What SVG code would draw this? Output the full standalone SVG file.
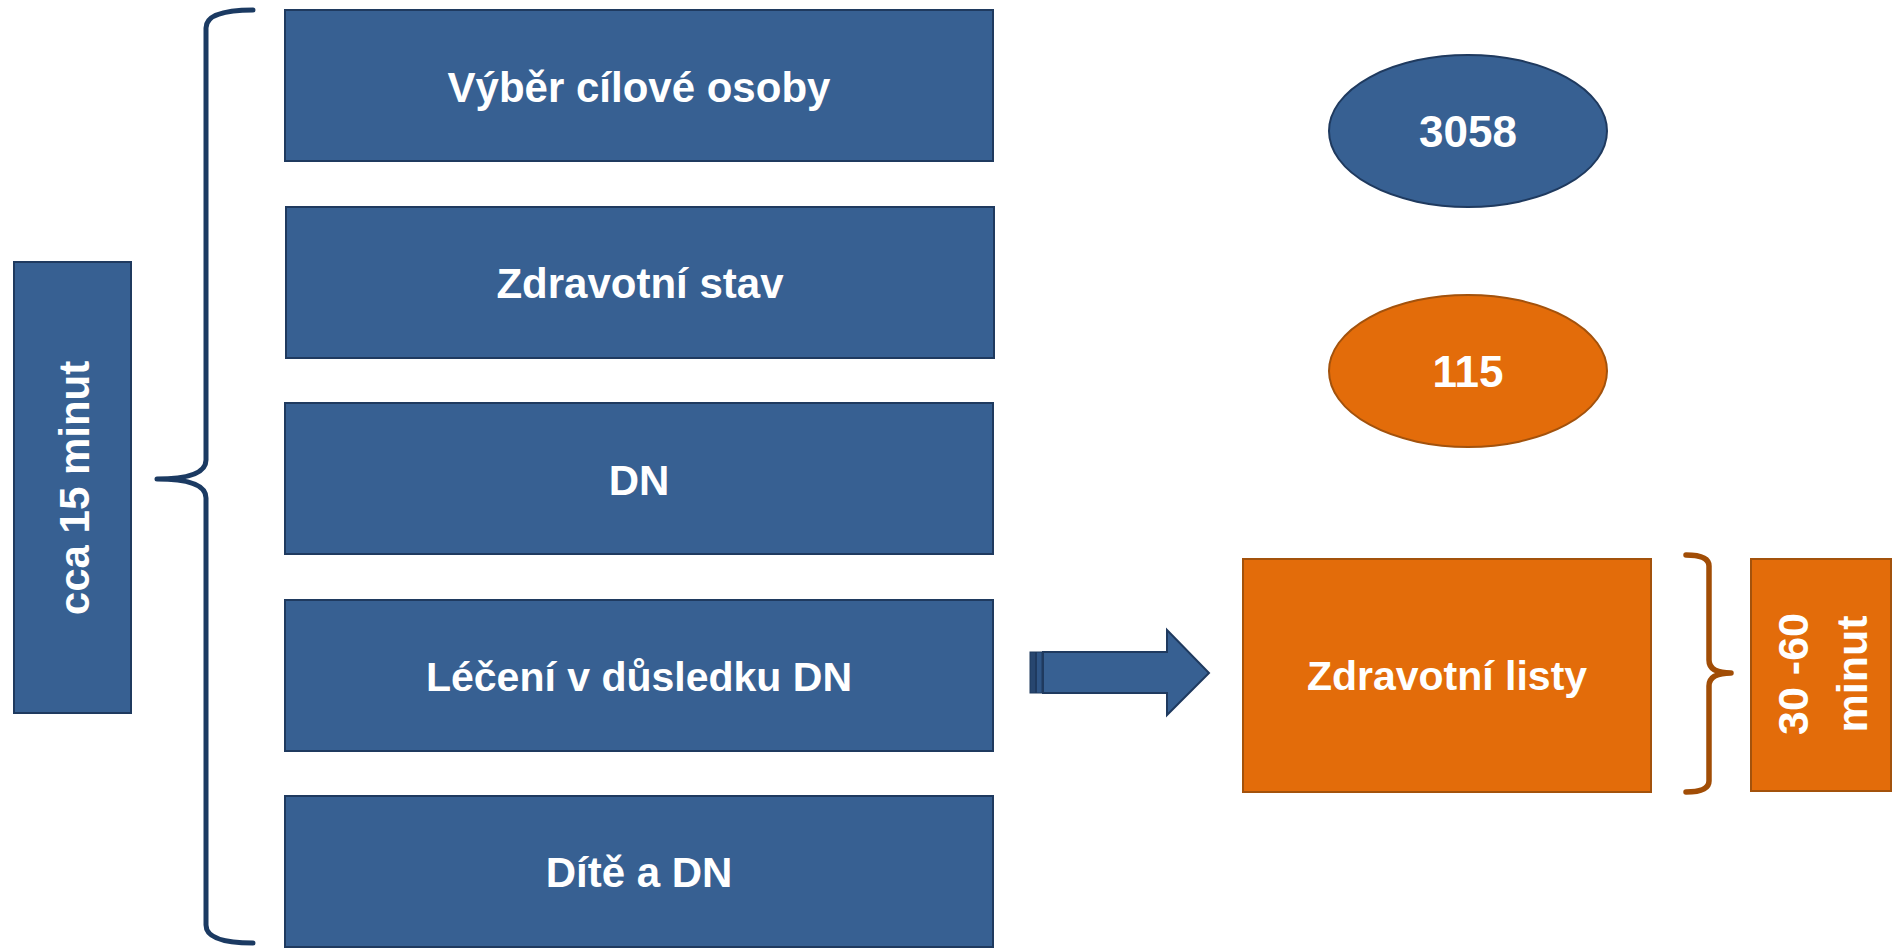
<svg xmlns="http://www.w3.org/2000/svg" width="1894" height="948" viewBox="0 0 1894 948">
<style>
.bbox{fill:#376092;stroke:#1f3a5f;stroke-width:2}
.obox{fill:#e36c0a;stroke:#a3520c;stroke-width:2}
.t{font-family:"Liberation Sans",Arial,sans-serif;font-weight:bold;fill:#ffffff;text-anchor:middle}
.brB{fill:none;stroke:#1b3a62;stroke-width:5;stroke-linecap:round;stroke-linejoin:round}
.brO{fill:none;stroke:#a14d06;stroke-width:5.5;stroke-linecap:round;stroke-linejoin:round}
</style>
<rect width="1894" height="948" fill="#ffffff"/>
<g id="time-left">
<rect class="bbox" x="14" y="262" width="117" height="451"/>
<text class="t" font-size="42" transform="translate(89,488) rotate(-90)" x="0" y="0">cca 15 minut</text>
</g>
<g id="node-vyber">
<rect class="bbox" x="285" y="10" width="708" height="151"/>
<text class="t" font-size="42" x="639" y="102">Výběr cílové osoby</text>
</g>
<g id="node-zdravotni-stav">
<rect class="bbox" x="286" y="207" width="708" height="151"/>
<text class="t" font-size="42" x="640" y="298">Zdravotní stav</text>
</g>
<g id="node-dn">
<rect class="bbox" x="285" y="403" width="708" height="151"/>
<text class="t" font-size="42" x="639" y="495">DN</text>
</g>
<g id="node-leceni">
<rect class="bbox" x="285" y="600" width="708" height="151"/>
<text class="t" font-size="41" x="639" y="691">Léčení v důsledku DN</text>
</g>
<g id="node-dite">
<rect class="bbox" x="285" y="796" width="708" height="151"/>
<text class="t" font-size="42" x="639" y="887">Dítě a DN</text>
</g>
<g id="node-3058">
<ellipse cx="1468" cy="131" rx="139" ry="76" fill="#376092" stroke="#1f3a5f" stroke-width="2"/>
<text class="t" font-size="44" x="1468" y="147">3058</text>
</g>
<g id="node-115">
<ellipse cx="1468" cy="371" rx="139" ry="76" fill="#e36c0a" stroke="#a3520c" stroke-width="2"/>
<text class="t" font-size="44" x="1468" y="387">115</text>
</g>
<g id="node-zdravotni-listy">
<rect class="obox" x="1243" y="559" width="408" height="233"/>
<text class="t" font-size="41" x="1447" y="690">Zdravotní listy</text>
</g>
<g id="time-right">
<rect class="obox" x="1751" y="559" width="140" height="232"/>
<text class="t" font-size="43" transform="translate(1808,674) rotate(-90)" x="0" y="0">30 -60</text>
<text class="t" font-size="43" transform="translate(1867,674) rotate(-90)" x="0" y="0">minut</text>
</g>
<g id="connectors">
<path class="brB" d="M253,10 Q206,10 206,28 L206,460 Q206,479 157,479 Q206,479 206,498 L206,925 Q206,943 253,943"/>
<path class="brO" d="M1686,555 Q1709,555 1709,566 L1709,660 Q1709,673 1731,673 Q1709,673 1709,686 L1709,781 Q1709,792 1686,792"/>
<rect x="1030" y="652" width="5.5" height="41" fill="#27466f" stroke="#1f3a5f" stroke-width="1"/>
<rect x="1036.5" y="652" width="5.5" height="41" fill="#2f5585" stroke="#1f3a5f" stroke-width="1"/>
<path d="M1043,652 L1167,652 L1167,630 L1209,673 L1167,715 L1167,693 L1043,693 Z" fill="#376092" stroke="#1f3a5f" stroke-width="2" stroke-linejoin="miter"/>
</g>
</svg>
